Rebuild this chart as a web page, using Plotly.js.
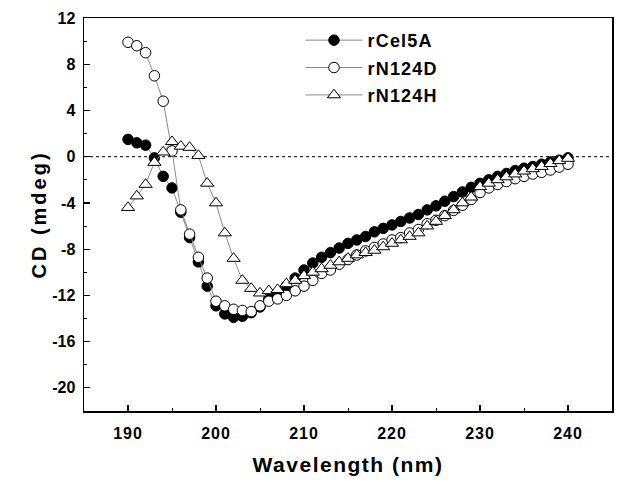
<!DOCTYPE html>
<html>
<head>
<meta charset="utf-8">
<script src="https://cdn.plot.ly/plotly-3.0.1.min.js"></script>
<style>
html,body{margin:0;padding:0;background:#fff;}
#chart{width:622px;height:489px;}
#chart .xtitle{letter-spacing:1.5px;}
#chart .ytitle{letter-spacing:3px;}
#chart .xtick text{letter-spacing:1px;}
#chart .legendtext{letter-spacing:1.2px;}
</style>
</head>
<body>
<div id="chart"></div>
<script>
var wavelength = [190,191,192,193,194,195,196,197,198,199,200,201,202,203,204,205,206,207,208,209,210,211,212,213,214,215,216,217,218,219,220,221,222,223,224,225,226,227,228,229,230,231,232,233,234,235,236,237,238,239,240];

var rCel5A = [1.5,1.2,1.0,-0.1,-1.7,-2.7,-4.8,-7.0,-9.1,-11.2,-12.9,-13.6,-13.9,-13.8,-13.5,-13.0,-12.3,-11.8,-11.2,-10.5,-9.8,-9.2,-8.7,-8.3,-7.9,-7.5,-7.2,-6.9,-6.5,-6.2,-5.9,-5.6,-5.3,-5.0,-4.6,-4.25,-3.85,-3.45,-3.05,-2.65,-2.3,-2.0,-1.7,-1.45,-1.2,-1.0,-0.85,-0.65,-0.45,-0.3,-0.1];

var rN124D = [9.9,9.6,9.0,7.0,4.8,0.5,-4.6,-6.7,-8.7,-10.5,-12.5,-12.9,-13.2,-13.3,-13.4,-12.9,-12.5,-12.3,-12.0,-11.6,-11.2,-10.7,-10.1,-9.8,-9.3,-8.9,-8.5,-8.15,-7.85,-7.55,-7.2,-7.0,-6.6,-6.3,-5.8,-5.5,-5.1,-4.65,-4.2,-3.7,-3.1,-2.7,-2.4,-2.15,-1.9,-1.7,-1.5,-1.35,-1.15,-0.9,-0.65];

var rN124H = [-4.4,-3.4,-2.4,-0.5,0.4,1.3,0.9,0.8,0.1,-2.3,-4.0,-6.6,-8.8,-10.7,-11.4,-11.8,-11.6,-11.5,-11.0,-10.7,-10.3,-10.0,-9.7,-9.4,-9.1,-8.8,-8.5,-8.3,-8.1,-7.8,-7.5,-7.2,-6.9,-6.6,-6.0,-5.6,-5.1,-4.6,-4.0,-3.5,-2.6,-2.3,-2.0,-1.75,-1.5,-1.25,-1.05,-0.85,-0.6,-0.35,-0.15];

var seriesNames = ['rCel5A','rN124D','rN124H'];
var xTicks = [190,200,210,220,230,240];
var yTicks = [-20,-16,-12,-8,-4,0,4,8,12];

var lineStyle = {color:'#8a8a8a', width:1};
var traces = [
  {x:wavelength, y:rCel5A, name:seriesNames[0], legendgroup:'a', mode:'lines+markers', line:lineStyle,
   marker:{symbol:'circle', size:10.5, color:'#000', line:{color:'#000', width:1}}},
  {x:wavelength, y:rN124D, name:seriesNames[1], legendgroup:'b', mode:'lines+markers', line:lineStyle,
   marker:{symbol:'circle', size:10.5, color:'#fff', line:{color:'#000', width:1}}},
  {x:wavelength, y:rN124H, name:seriesNames[2], legendgroup:'c', mode:'lines+markers', line:lineStyle,
   marker:{symbol:'triangle-up', size:11.5, color:'#fff', line:{color:'#000', width:1}}}
];

var fontFam = '"Liberation Sans", Arial, sans-serif';
var layout = {
  width:622, height:489,
  margin:{l:84, r:10, t:18, b:78},
  paper_bgcolor:'#fff', plot_bgcolor:'#fff',
  font:{family:fontFam, color:'#000'},
  showlegend:true,
  legend:{x:0.41, y:0.99, xanchor:'left', yanchor:'top', bgcolor:'rgba(0,0,0,0)', traceorder:'grouped',
          font:{family:fontFam, size:18, color:'#000', weight:'bold'}, itemwidth:57, tracegroupgap:1},
  xaxis:{range:[185,245], tickvals:xTicks, ticktext:xTicks.map(String), ticks:'inside', ticklen:6, tickwidth:1.2,
         tickcolor:'#000', showline:true, linecolor:'#000', linewidth:1.5, mirror:true, showgrid:false, zeroline:false,
         minor:{dtick:5, tick0:185, ticks:'inside', ticklen:3, tickcolor:'#000', tickwidth:1},
         tickfont:{family:fontFam, size:16, weight:'bold'}, ticklabelstandoff:7,
         title:{text:'Wavelength (nm)', font:{family:fontFam, size:21, weight:'bold'}, standoff:16}},
  yaxis:{range:[-22,12], tickvals:yTicks, ticktext:yTicks.map(String), ticks:'inside', ticklen:6, tickwidth:1.2,
         tickcolor:'#000', showline:true, linecolor:'#000', linewidth:1.5, mirror:true, showgrid:false, zeroline:false,
         minor:{dtick:2, tick0:0, ticks:'inside', ticklen:3, tickcolor:'#000', tickwidth:1},
         tickfont:{family:fontFam, size:16, weight:'bold'}, ticklabelstandoff:4,
         title:{text:'CD (mdeg)', font:{family:fontFam, size:20, weight:'bold'}, standoff:0}},
  shapes:[{type:'line', xref:'paper', x0:0, x1:1, yref:'y', y0:0, y1:0, line:{color:'#000', width:1, dash:'dot'}, layer:'below'}]
};

Plotly.newPlot('chart', traces, layout, {displayModeBar:false, staticPlot:true});
</script>
</body>
</html>
